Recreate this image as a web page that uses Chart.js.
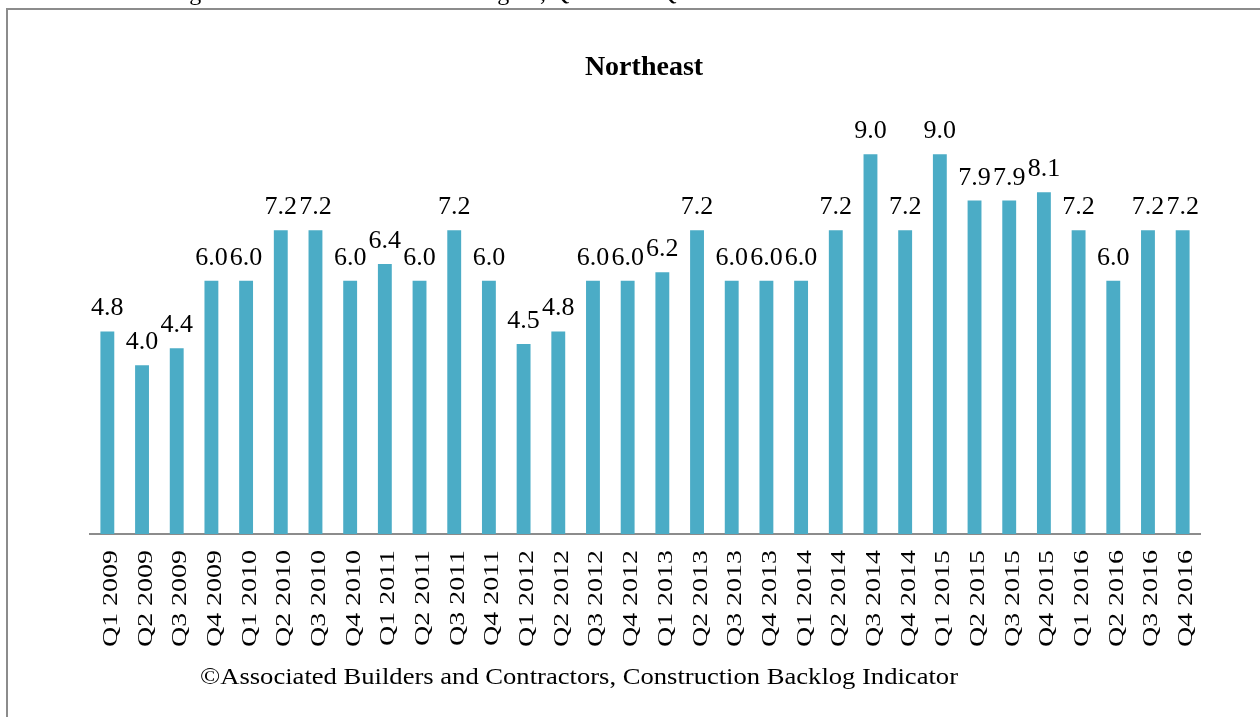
<!DOCTYPE html>
<html>
<head>
<meta charset="utf-8">
<script src="https://cdn.jsdelivr.net/npm/chart.js@4/dist/chart.umd.min.js"></script>
<style>
  html, body { margin: 0; padding: 0; background: #ffffff; }
  body { width: 1260px; height: 717px; overflow: hidden; position: relative; }
  #frame { position: absolute; left: 6px; top: 8px; width: 1300px; height: 800px; border: 2px solid #8c8c8c; box-sizing: border-box; }
  #c { position: absolute; left: 0; top: 0; }
</style>
</head>
<body>
<div id="frame"></div>
<canvas id="c" width="1260" height="717"></canvas>
<script>
const headerText = "Median Backlog in Months in the Northeast Region, Q1 2009 – Q4 2016";
const chartTitle = "Northeast";
const footerText = "©Associated Builders and Contractors, Construction Backlog Indicator";

const categories = [
  "Q1 2009","Q2 2009","Q3 2009","Q4 2009",
  "Q1 2010","Q2 2010","Q3 2010","Q4 2010",
  "Q1 2011","Q2 2011","Q3 2011","Q4 2011",
  "Q1 2012","Q2 2012","Q3 2012","Q4 2012",
  "Q1 2013","Q2 2013","Q3 2013","Q4 2013",
  "Q1 2014","Q2 2014","Q3 2014","Q4 2014",
  "Q1 2015","Q2 2015","Q3 2015","Q4 2015",
  "Q1 2016","Q2 2016","Q3 2016","Q4 2016"
];
const backlogMonths = [
  4.8, 4.0, 4.4, 6.0,
  6.0, 7.2, 7.2, 6.0,
  6.4, 6.0, 7.2, 6.0,
  4.5, 4.8, 6.0, 6.0,
  6.2, 7.2, 6.0, 6.0,
  6.0, 7.2, 9.0, 7.2,
  9.0, 7.9, 7.9, 8.1,
  7.2, 6.0, 7.2, 7.2
];
const yMin = 0;
const yMax = 10;

const SERIF = '"Liberation Serif", "Times New Roman", serif';

const textPlugin = {
  id: 'textPlugin',
  afterDatasetsDraw(chart) {
    const ctx = chart.ctx;
    const meta = chart.getDatasetMeta(0);
    const xs = chart.scales.x;
    ctx.save();
    ctx.fillStyle = '#000000';

    // value labels
    ctx.font = '26px ' + SERIF;
    ctx.textAlign = 'center';
    ctx.textBaseline = 'alphabetic';
    meta.data.forEach((bar, i) => {
      const v = chart.data.datasets[0].data[i];
      ctx.fillText(v.toFixed(1), bar.x, bar.y - 16);
    });

    // rotated category labels
    ctx.font = '22px ' + SERIF;
    ctx.textAlign = 'right';
    ctx.textBaseline = 'alphabetic';
    chart.data.labels.forEach((lab, i) => {
      const x = xs.getPixelForTick(i);
      ctx.save();
      ctx.translate(x + 9.5, xs.top + 16);
      ctx.rotate(-Math.PI / 2);
      ctx.scale(1.27, 1);
      ctx.fillText(lab, 0, 0);
      ctx.restore();
    });

    // title
    ctx.font = 'bold 28px ' + SERIF;
    ctx.textAlign = 'center';
    ctx.fillText(chartTitle, 644, 75);

    // footer
    ctx.font = '24px ' + SERIF;
    ctx.textAlign = 'left';
    const fw = ctx.measureText(footerText).width;
    ctx.save();
    ctx.translate(200, 684);
    ctx.scale(758 / fw, 1);
    ctx.fillText(footerText, 0, 0);
    ctx.restore();

    // cut-off header line at very top
    ctx.font = '24px ' + SERIF;
    ctx.textAlign = 'left';
    ctx.fillText(headerText, 42, 0);

    ctx.restore();
  }
};

new Chart(document.getElementById('c'), {
  type: 'bar',
  data: {
    labels: categories,
    datasets: [{
      data: backlogMonths,
      backgroundColor: '#4bacc6',
      borderWidth: 0,
      barPercentage: 0.4,
      categoryPercentage: 1.0
    }]
  },
  options: {
    responsive: false,
    animation: false,
    devicePixelRatio: 1,
    layout: { padding: { left: 90, right: 60, top: 112, bottom: 63 } },
    plugins: { legend: { display: false }, tooltip: { enabled: false }, title: { display: false } },
    scales: {
      x: {
        offset: true,
        grid: { display: false, drawTicks: false },
        border: { display: true, color: '#8c8c8c', width: 2 },
        ticks: { display: false },
        afterFit(s) { s.height = 120; }
      },
      y: { display: false, min: yMin, max: yMax }
    }
  },
  plugins: [textPlugin]
});
</script>
</body>
</html>
